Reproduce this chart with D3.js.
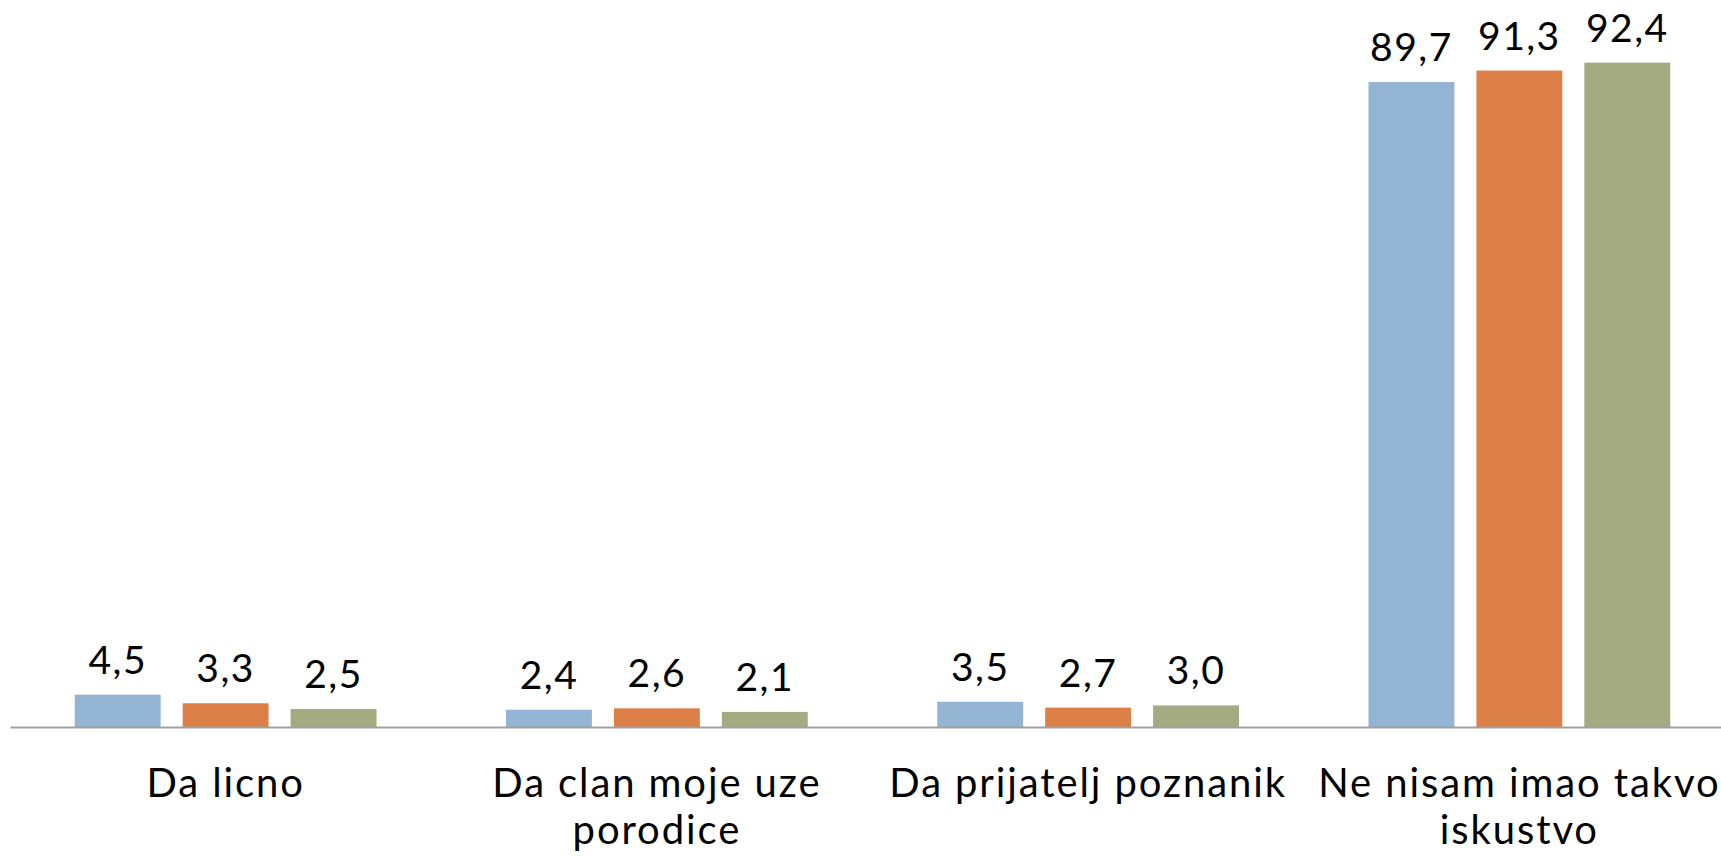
<!DOCTYPE html>
<html><head><meta charset="utf-8">
<script src="https://cdn.jsdelivr.net/npm/d3@7"></script>
<style>
html,body{margin:0;padding:0;background:#fff;}
svg{display:block;font-family:Lato,"Open Sans",sans-serif;}
</style></head>
<body>
<svg id="chart" width="1721" height="857"></svg>
<script>
const categories = ["Da licno", "Da clan moje uze porodice", "Da prijatelj poznanik", "Ne nisam imao takvo iskustvo"];
const seriesNames = ["Serija 1", "Serija 2", "Serija 3"];
const series1 = [4.5, 2.4, 3.5, 89.7];
const series2 = [3.3, 2.6, 2.7, 91.3];
const series3 = [2.5, 2.1, 3.0, 92.4];
const colors = ["#93B4D3", "#DD8047", "#A5AB81"];

const seriesValues = [series1, series2, series3];
const svg = d3.select("#chart");
const axisY = 727;

const x0 = d3.scaleBand().domain(categories).range([10, 1735]).paddingInner(0).paddingOuter(0);
const x1 = d3.scaleBand().domain(seriesNames).range([0, x0.bandwidth()]).paddingInner(0.204).paddingOuter(0.6);
const y = d3.scaleLinear().domain([0, 100]).range([axisY, 8]);

const g = svg.append("g");
categories.forEach((c, ci) => {
  seriesNames.forEach((s, si) => {
    const v = seriesValues[si][ci];
    g.append("rect")
      .attr("x", x0(c) + x1(s))
      .attr("y", y(v))
      .attr("width", x1.bandwidth())
      .attr("height", y(0) - y(v))
      .attr("fill", colors[si]);
    g.append("text")
      .attr("x", x0(c) + x1(s) + x1.bandwidth() / 2)
      .attr("y", y(v) - 21)
      .attr("text-anchor", "middle")
      .attr("font-size", 39)
      .attr("letter-spacing", 1.5)
      .attr("fill", "#000")
      .text(d3.format(".1f")(v).replace(".", ","));
  });
});

// axis
const xAxis = d3.axisBottom(x0).tickSize(0).tickPadding(0);
const ax = svg.append("g").attr("transform", `translate(0,${axisY})`).call(xAxis);
ax.select(".domain").attr("stroke", "#A0A0A0").attr("stroke-width", 2.2);
ax.selectAll(".tick text").remove();

// category labels with wrapping
categories.forEach(c => {
  const cx = x0(c) + x0.bandwidth() / 2;
  const t = svg.append("text")
    .attr("x", cx)
    .attr("y", 797)
    .attr("text-anchor", "middle")
    .attr("font-size", 40)
    .attr("letter-spacing", 1.9)
    .attr("fill", "#000");
  const words = c.split(" ");
  let line = [];
  let tspan = t.append("tspan").attr("x", cx).attr("dy", 0);
  words.forEach(w => {
    line.push(w);
    tspan.text(line.join(" "));
    if (tspan.node().getComputedTextLength() > 425 && line.length > 1) {
      line.pop();
      tspan.text(line.join(" "));
      line = [w];
      tspan = t.append("tspan").attr("x", cx).attr("dy", 47).text(w);
    }
  });
});
</script>
</body></html>
